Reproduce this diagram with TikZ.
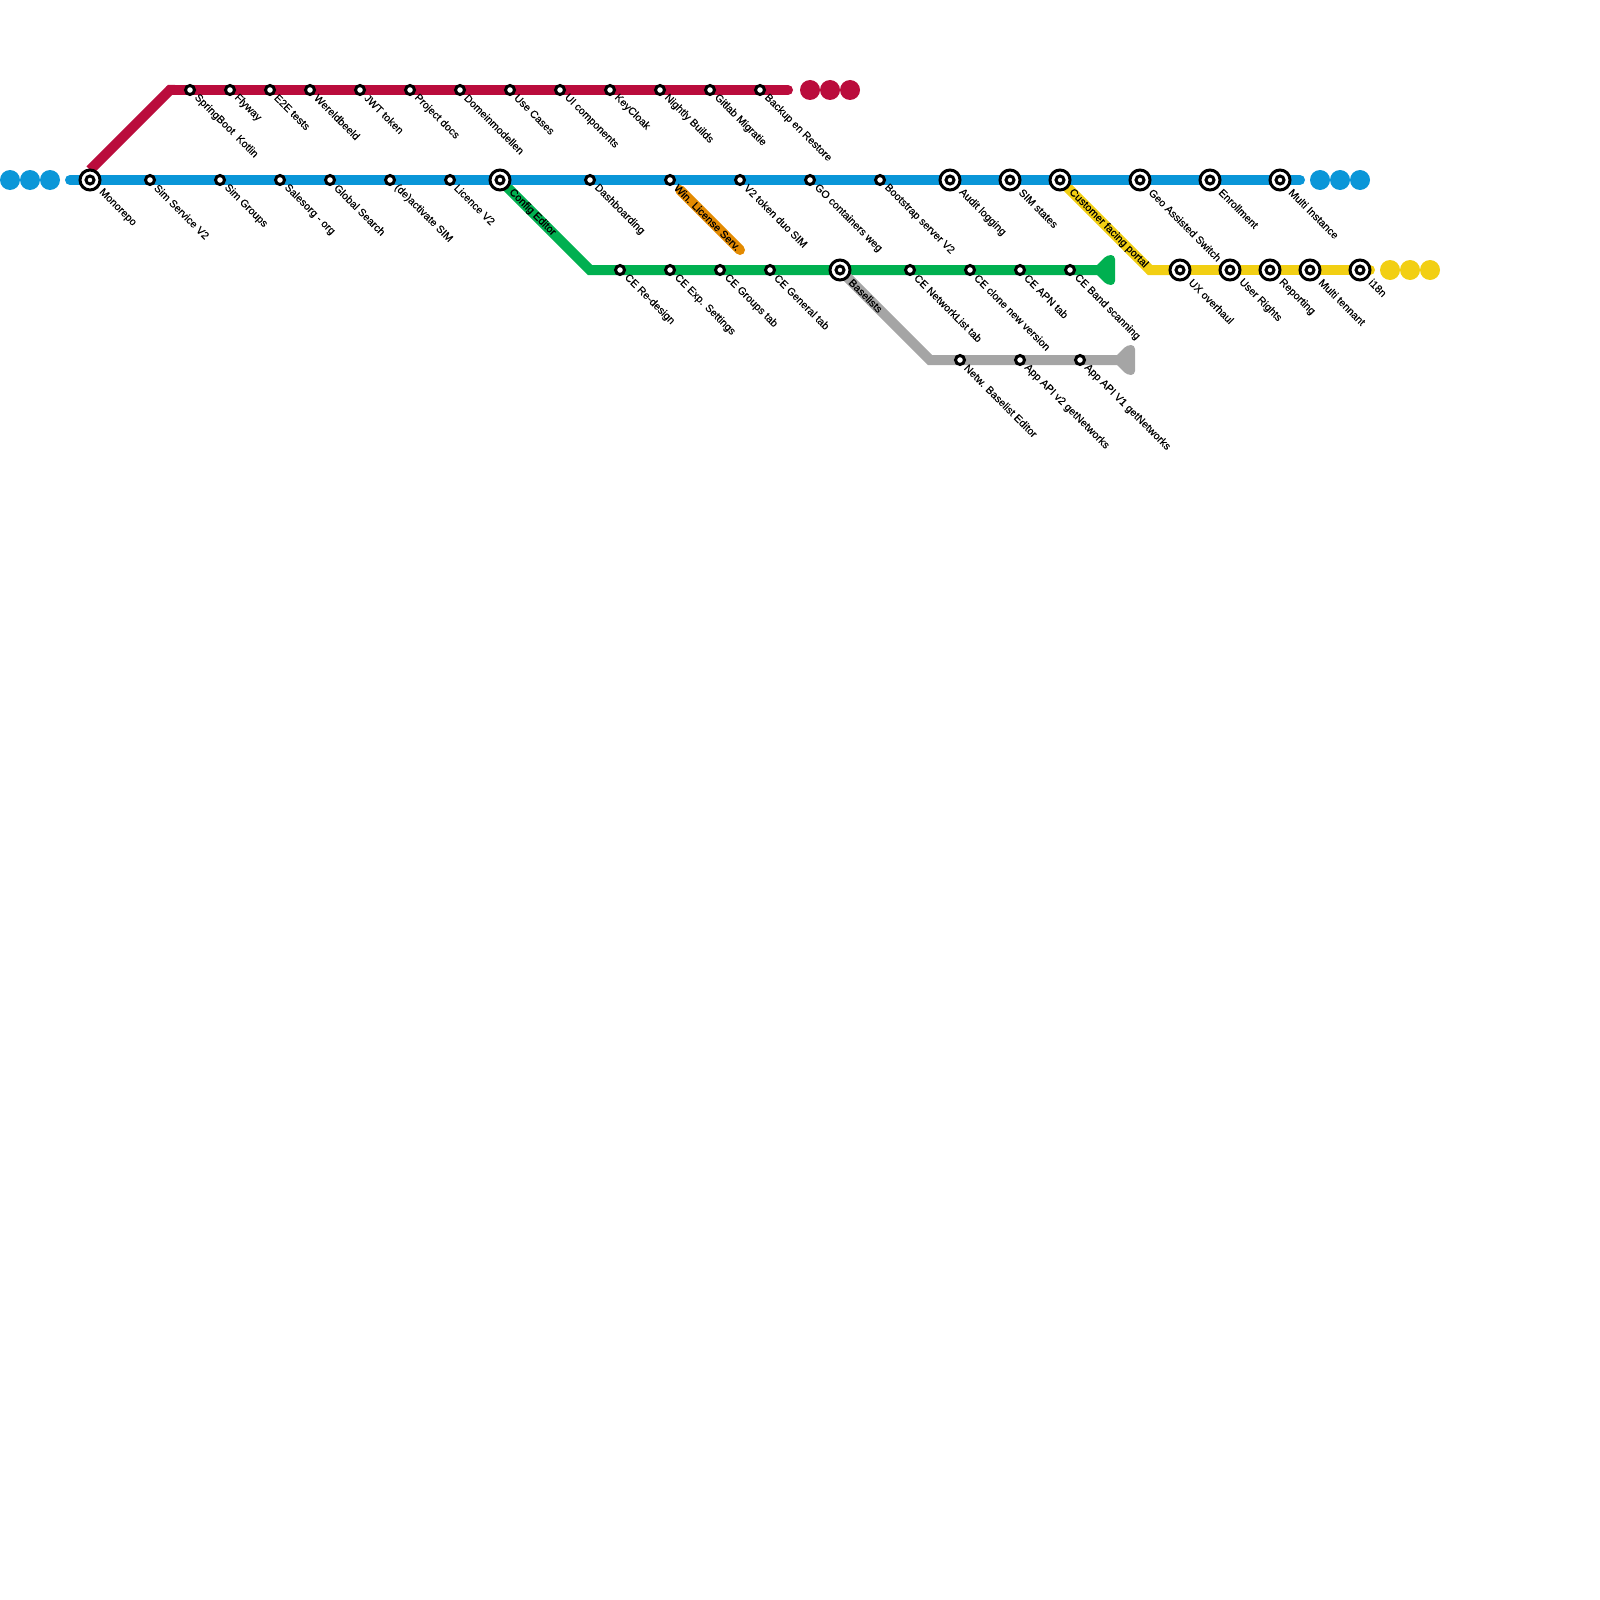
\documentclass[tikz,border=0pt]{standalone}
\usepackage{fontspec}
\setmainfont{Liberation Sans}[FakeBold=0.2]
\usetikzlibrary{backgrounds}
\definecolor{redline}{HTML}{BA0C3C}
\definecolor{blueline}{HTML}{0A96D8}
\definecolor{greenline}{HTML}{00B050}
\definecolor{yellowline}{HTML}{F2CF13}
\definecolor{grayline}{HTML}{A5A5A5}
\definecolor{orangeline}{HTML}{E38A00}

\begin{document}
\begin{tikzpicture}[x=1pt,y=-1pt,
  track/.style={line width=10pt,line join=miter},
  stop/.style={circle,draw=black,fill=white,line width=3pt,inner sep=0pt,outer sep=0pt,minimum size=9pt},
  hub/.style={circle,draw=black,fill=white,line width=3pt,inner sep=0pt,outer sep=0pt,minimum size=20pt,
    path picture={\draw[line width=3pt] (path picture bounding box.center) circle (4pt);}},
  more/.style={circle,fill=#1,inner sep=0pt,outer sep=0pt,minimum size=20pt},
  stoplabel/.style={rotate=-45,anchor=west,inner sep=0pt,xshift=8.5pt,font=\fontsize{10.6}{10.6}\selectfont},
  hublabel/.style={stoplabel,xshift=6.5pt}]
  \useasboundingbox (0,0) rectangle (1600,1600);
  % Free ends and bends
  \coordinate (redstart) at (90,170);
  \coordinate (redbend) at (170,90);
  \coordinate (redend) at (788,90);
  \coordinate (bluestart) at (70,180);
  \coordinate (blueend) at (1300,180);
  \coordinate (greenbend) at (590,270);
  \coordinate (greenend) at (1100,270);
  \coordinate (graybend) at (930,360);
  \coordinate (grayend) at (1120,360);
  \coordinate (yellowbend) at (1150,270);
  \coordinate (yellowend) at (1370,270);
  \coordinate (winstart) at (680,190);
  \coordinate (winend) at (740,250);
  % Blue line
  \node[more=blueline] (blueleft1) at (10,180) {};
  \node[more=blueline] (blueleft2) at (30,180) {};
  \node[more=blueline] (blueleft3) at (50,180) {};
  \node[hub] (monorepo) at (90,180) {};
  \node[stop] (simservice) at (150,180) {};
  \node[stop] (simgroups) at (220,180) {};
  \node[stop] (salesorg) at (280,180) {};
  \node[stop] (globalsearch) at (330,180) {};
  \node[stop] (deactivate) at (390,180) {};
  \node[stop] (licence) at (450,180) {};
  \node[hub] (configeditor) at (500,180) {};
  \node[stop] (dashboarding) at (590,180) {};
  \node[stop] (winlicense) at (670,180) {};
  \node[stop] (v2token) at (740,180) {};
  \node[stop] (gocontainers) at (810,180) {};
  \node[stop] (bootstrap) at (880,180) {};
  \node[hub] (audit) at (950,180) {};
  \node[hub] (simstates) at (1010,180) {};
  \node[hub] (customer) at (1060,180) {};
  \node[hub] (geoswitch) at (1140,180) {};
  \node[hub] (enrollment) at (1210,180) {};
  \node[hub] (multiinstance) at (1280,180) {};
  \node[more=blueline] (blueright1) at (1320,180) {};
  \node[more=blueline] (blueright2) at (1340,180) {};
  \node[more=blueline] (blueright3) at (1360,180) {};
  % Red line
  \node[stop] (springboot) at (190,90) {};
  \node[stop] (flyway) at (230,90) {};
  \node[stop] (e2e) at (270,90) {};
  \node[stop] (wereldbeeld) at (310,90) {};
  \node[stop] (jwt) at (360,90) {};
  \node[stop] (projectdocs) at (410,90) {};
  \node[stop] (domein) at (460,90) {};
  \node[stop] (usecases) at (510,90) {};
  \node[stop] (uicomp) at (560,90) {};
  \node[stop] (keycloak) at (610,90) {};
  \node[stop] (nightly) at (660,90) {};
  \node[stop] (gitlab) at (710,90) {};
  \node[stop] (backup) at (760,90) {};
  \node[more=redline] (redright1) at (810,90) {};
  \node[more=redline] (redright2) at (830,90) {};
  \node[more=redline] (redright3) at (850,90) {};
  % Green line
  \node[stop] (redesign) at (620,270) {};
  \node[stop] (expsettings) at (670,270) {};
  \node[stop] (groupstab) at (720,270) {};
  \node[stop] (generaltab) at (770,270) {};
  \node[hub] (baselists) at (840,270) {};
  \node[stop] (networklist) at (910,270) {};
  \node[stop] (clonenew) at (970,270) {};
  \node[stop] (apntab) at (1020,270) {};
  \node[stop] (bandscan) at (1070,270) {};
  % Gray line
  \node[stop] (baselisteditor) at (960,360) {};
  \node[stop] (apiv2) at (1020,360) {};
  \node[stop] (apiv1) at (1080,360) {};
  % Yellow line
  \node[hub] (uxoverhaul) at (1180,270) {};
  \node[hub] (userrights) at (1230,270) {};
  \node[hub] (reporting) at (1270,270) {};
  \node[hub] (multitennant) at (1310,270) {};
  \node[hub] (i18n) at (1360,270) {};
  \node[more=yellowline] (yellowright1) at (1390,270) {};
  \node[more=yellowline] (yellowright2) at (1410,270) {};
  \node[more=yellowline] (yellowright3) at (1430,270) {};
  % Tracks go under the stops
  \begin{scope}[on background layer]
    \draw[track,redline,line cap=round] (redbend) -- (redend);
    \draw[track,redline] (redstart) -- (redbend) -- +(5,0);
    \draw[track,yellowline,line cap=round] (yellowbend) -- (yellowend);
    \draw[track,yellowline] (customer.center) -- (yellowbend) -- (uxoverhaul.center);
    \draw[track,orangeline,line cap=round] (winstart) -- (winend);
    \draw[track,greenline] (configeditor.center) -- (greenbend) -- (greenend);
    \draw[track,grayline] (baselists.center) -- (graybend) -- (grayend);
    \draw[track,blueline,line cap=round] (bluestart) -- (blueend);
    \fill[greenline,rounded corners=4pt] (1092,270) -- (1107,255) -- (1115,255) -- (1115,285) -- (1107,285) -- cycle;
    \fill[grayline,rounded corners=4pt] (1112,360) -- (1127,345) -- (1135,345) -- (1135,375) -- (1127,375) -- cycle;
  \end{scope}
  % Names of the stops
  \node[hublabel] (monorepotext) at (monorepo) {Monorepo};
  \node[stoplabel] (simservicetext) at (simservice) {Sim Service V2};
  \node[stoplabel] (simgroupstext) at (simgroups) {Sim Groups};
  \node[stoplabel] (salesorgtext) at (salesorg) {Salesorg - org};
  \node[stoplabel] (globalsearchtext) at (globalsearch) {Global Search};
  \node[stoplabel] (deactivatetext) at (deactivate) {(de)activate SIM};
  \node[stoplabel] (licencetext) at (licence) {Licence V2};
  \node[hublabel] (configeditortext) at (configeditor) {Config Editor};
  \node[stoplabel] (dashboardingtext) at (dashboarding) {Dashboarding};
  \node[stoplabel] (winlicensetext) at (winlicense) {Win. License Serv.};
  \node[stoplabel] (v2tokentext) at (v2token) {V2 token duo SIM};
  \node[stoplabel] (gocontainerstext) at (gocontainers) {GO containers weg};
  \node[stoplabel] (bootstraptext) at (bootstrap) {Bootstrap server V2};
  \node[hublabel] (audittext) at (audit) {Audit logging};
  \node[hublabel] (simstatestext) at (simstates) {SIM states};
  \node[hublabel] (customertext) at (customer) {Customer facing portal};
  \node[hublabel] (geoswitchtext) at (geoswitch) {Geo Assisted Switch};
  \node[hublabel] (enrollmenttext) at (enrollment) {Enrollment};
  \node[hublabel] (multiinstancetext) at (multiinstance) {Multi Instance};
  \node[stoplabel] (springboottext) at (springboot) {SpringBoot\ \ Kotlin};
  \node[stoplabel] (flywaytext) at (flyway) {Flyway};
  \node[stoplabel] (e2etext) at (e2e) {E2E tests};
  \node[stoplabel] (wereldbeeldtext) at (wereldbeeld) {Wereldbeeld};
  \node[stoplabel] (jwttext) at (jwt) {JWT token};
  \node[stoplabel] (projectdocstext) at (projectdocs) {Project docs};
  \node[stoplabel] (domeintext) at (domein) {Domeinmodellen};
  \node[stoplabel] (usecasestext) at (usecases) {Use Cases};
  \node[stoplabel] (uicomptext) at (uicomp) {UI components};
  \node[stoplabel] (keycloaktext) at (keycloak) {KeyCloak};
  \node[stoplabel] (nightlytext) at (nightly) {Nightly Builds};
  \node[stoplabel] (gitlabtext) at (gitlab) {Gitlab Migratie};
  \node[stoplabel] (backuptext) at (backup) {Backup en Restore};
  \node[stoplabel] (redesigntext) at (redesign) {CE Re-design};
  \node[stoplabel] (expsettingstext) at (expsettings) {CE Exp. Settings};
  \node[stoplabel] (groupstabtext) at (groupstab) {CE Groups tab};
  \node[stoplabel] (generaltabtext) at (generaltab) {CE General tab};
  \node[hublabel] (baseliststext) at (baselists) {Baselists};
  \node[stoplabel] (networklisttext) at (networklist) {CE NetworkList tab};
  \node[stoplabel] (clonenewtext) at (clonenew) {CE clone new version};
  \node[stoplabel] (apntabtext) at (apntab) {CE APN tab};
  \node[stoplabel] (bandscantext) at (bandscan) {CE Band scanning};
  \node[stoplabel] (baselisteditortext) at (baselisteditor) {Netw. Baselist Editor};
  \node[stoplabel] (apiv2text) at (apiv2) {App API v2 getNetworks};
  \node[stoplabel] (apiv1text) at (apiv1) {App API V1 getNetworks};
  \node[hublabel] (uxoverhaultext) at (uxoverhaul) {UX overhaul};
  \node[hublabel] (userrightstext) at (userrights) {User Rights};
  \node[hublabel] (reportingtext) at (reporting) {Reporting};
  \node[hublabel] (multitennanttext) at (multitennant) {Multi tennant};
  \node[hublabel] (i18ntext) at (i18n) {i18n};
\end{tikzpicture}
\end{document}
